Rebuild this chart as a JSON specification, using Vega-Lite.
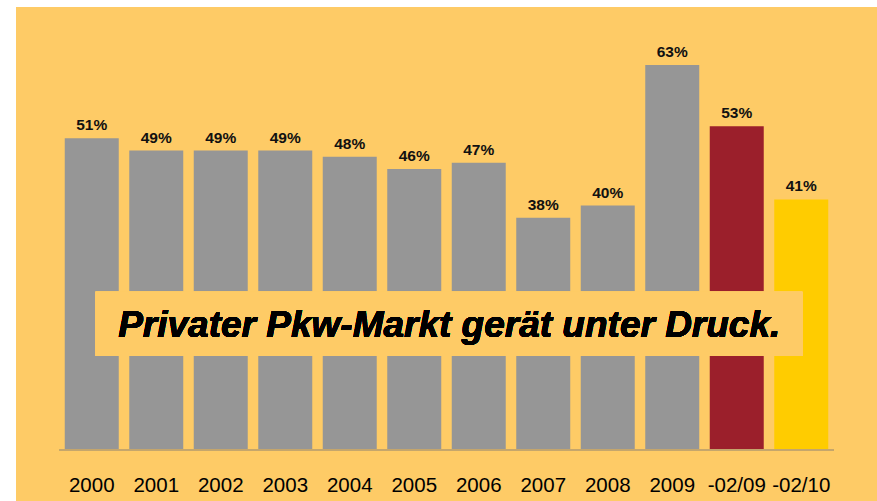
{
  "$schema": "https://vega.github.io/schema/vega-lite/v6.json",
  "width": 861,
  "height": 494,
  "autosize": {"type": "none"},
  "padding": {"left": 16, "top": 7, "right": 0, "bottom": 0},
  "background": "white",
  "view": {"fill": "#FECB66", "stroke": null},
  "config": {"font": "Liberation Sans"},
  "data": {
    "values": [
      {"periode": "2000", "anteil": 51, "gruppe": "Jahr"},
      {"periode": "2001", "anteil": 49, "gruppe": "Jahr"},
      {"periode": "2002", "anteil": 49, "gruppe": "Jahr"},
      {"periode": "2003", "anteil": 49, "gruppe": "Jahr"},
      {"periode": "2004", "anteil": 48, "gruppe": "Jahr"},
      {"periode": "2005", "anteil": 46, "gruppe": "Jahr"},
      {"periode": "2006", "anteil": 47, "gruppe": "Jahr"},
      {"periode": "2007", "anteil": 38, "gruppe": "Jahr"},
      {"periode": "2008", "anteil": 40, "gruppe": "Jahr"},
      {"periode": "2009", "anteil": 63, "gruppe": "Jahr"},
      {"periode": "-02/09", "anteil": 53, "gruppe": "Feb 2009"},
      {"periode": "-02/10", "anteil": 41, "gruppe": "Feb 2010"}
    ]
  },
  "encoding": {
    "x": {
      "field": "periode",
      "type": "nominal",
      "sort": null,
      "scale": {"paddingInner": 0.163, "paddingOuter": 0.756},
      "axis": {
        "title": null,
        "orient": "bottom",
        "offset": -51,
        "domain": false,
        "ticks": false,
        "tickSize": 0,
        "labelAngle": 0,
        "labelFontSize": 20.5,
        "labelColor": "#000000",
        "labelBaseline": "alphabetic",
        "labelPadding": 41,
        "labelFont": "Liberation Sans"
      }
    },
    "y": {
      "type": "quantitative",
      "scale": {"domain": [-8.35, 72.5], "nice": false, "zero": false},
      "axis": null
    }
  },
  "layer": [
    {
      "mark": {"type": "bar"},
      "encoding": {
        "y": {"field": "anteil", "type": "quantitative"},
        "y2": {"datum": 0},
        "color": {
          "field": "gruppe",
          "type": "nominal",
          "scale": {"domain": ["Jahr", "Feb 2009", "Feb 2010"], "range": ["#969696", "#9B1F2B", "#FFCC00"]},
          "legend": null
        }
      }
    },
    {
      "transform": [{"calculate": "datum.anteil + '%'", "as": "beschriftung"}],
      "mark": {"type": "text", "fontSize": 15.5, "fontWeight": "bold", "baseline": "alphabetic", "dy": -8, "color": "#111111"},
      "encoding": {
        "y": {"field": "anteil", "type": "quantitative"},
        "text": {"field": "beschriftung", "type": "nominal"}
      }
    },
    {
      "mark": {"type": "rule", "color": "#C4A66C", "strokeWidth": 1.5},
      "encoding": {
        "x": {"datum": "2000", "bandPosition": -0.093},
        "x2": {"datum": "-02/10", "bandPosition": 1.1},
        "y": {"datum": 0}
      }
    },
    {
      "mark": {"type": "rect", "color": "#FECB66"},
      "encoding": {
        "x": {"datum": "2000", "bandPosition": 0.57},
        "x2": {"datum": "-02/10", "bandPosition": 0.52},
        "y": {"datum": 15.4},
        "y2": {"datum": 25.9}
      }
    },
    {
      "mark": {"type": "text", "fontSize": 37, "fontWeight": "bold", "fontStyle": "italic", "baseline": "alphabetic", "align": "center", "dx": 8, "color": "#000000"},
      "encoding": {
        "x": {"datum": "2005", "bandPosition": 1},
        "y": {"datum": 18.5},
        "text": {"value": "Privater Pkw-Markt gerät unter Druck."}
      }
    }
  ]
}
